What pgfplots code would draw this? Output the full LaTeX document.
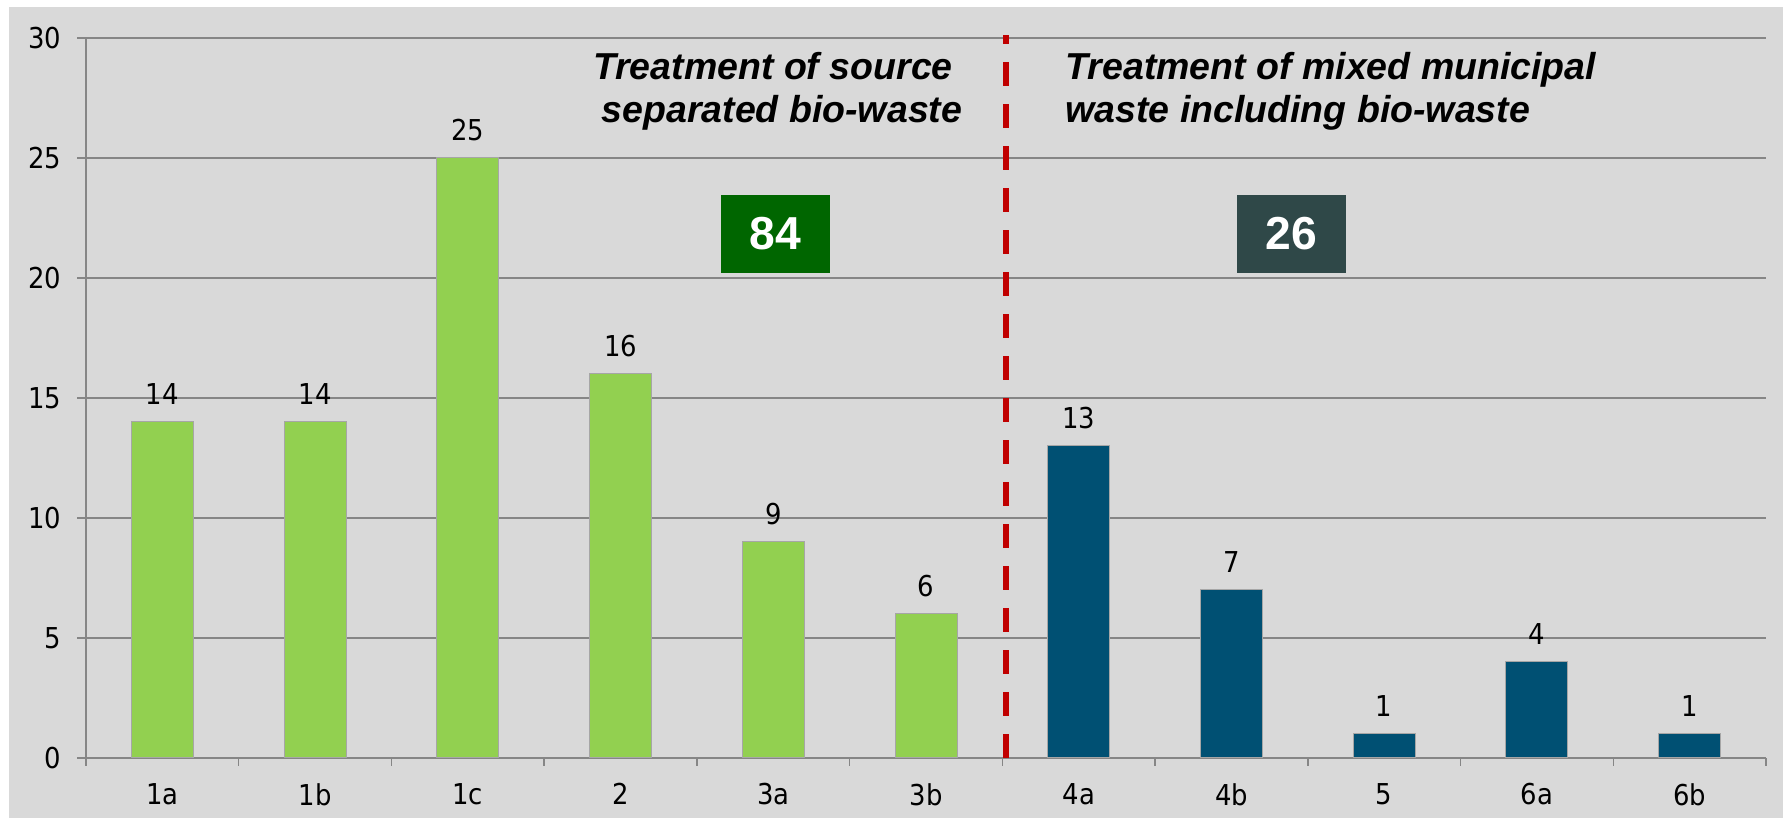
\documentclass[border=0pt]{standalone}
\usepackage{fontspec}
\setmainfont{DejaVu Sans Condensed}
\newfontfamily\arialfont{Liberation Sans}
\usepackage{pgfplots}
\pgfplotsset{compat=1.18}

\definecolor{bggray}{HTML}{D9D9D9}
\definecolor{gridgray}{HTML}{868686}
\definecolor{barGreen}{HTML}{92D050}
\definecolor{barBlue}{HTML}{005073}
\definecolor{boxGreen}{HTML}{006600}
\definecolor{boxSlate}{HTML}{2F4848}
\definecolor{divRed}{HTML}{C00000}

\newcommand{\headfont}{\arialfont\bfseries\itshape\fontsize{15}{17}\selectfont}
\newcommand{\boxfont}{\arialfont\bfseries\fontsize{18.5}{20}\selectfont}
\newcommand{\labelfont}{\fontsize{11.5}{13}\selectfont}

\begin{document}
\begin{tikzpicture}
\useasboundingbox (0,0) rectangle (713.2pt,328pt);
\fill[bggray] (3.6pt,0.8pt) rectangle (713.2pt,325.2pt);
\begin{axis}[
  at={(34.4pt,24.8pt)}, anchor=south west,
  scale only axis, width=672pt, height=288pt,
  xmin=-0.5, xmax=10.5, ymin=0, ymax=30,
  axis x line*=bottom, axis y line*=left,
  axis line style={gridgray, line width=0.6pt},
  ytick={0,5,...,30},
  ymajorgrids, grid style={gridgray, line width=0.6pt},
  xtick={0,...,10},
  xticklabels={1a,1b,1c,2,3a,3b,4a,4b,5,6a,6b},
  minor xtick={-0.5,0.5,...,10.5},
  tick align=outside,
  major tick length=3.6pt, minor tick length=3.2pt,
  tick style={gridgray, line width=0.6pt},
  major x tick style={draw=none},
  tick label style={font=\labelfont, text=black},
  xticklabel style={yshift=-3pt},
  yticklabel style={xshift=-2.8pt},
  /pgf/number format/assume math mode=true,
  ybar, bar width=24.8pt, bar shift=0pt,
  nodes near coords,
  every node near coord/.append style={font=\labelfont,
    text=black, anchor=base, inner sep=0pt, yshift=6.8pt},
  clip=false,
]
% source separated bio-waste
\addplot[fill=barGreen, draw=black!35, line width=0.4pt]
  coordinates {(0,14) (1,14) (2,25) (3,16) (4,9) (5,6)};
% mixed municipal waste
\addplot[fill=barBlue, draw=black!35, line width=0.4pt]
  coordinates {(6,13) (7,7) (8,1) (9,4) (10,1)};

% divider between the two treatment groups
\draw[divRed, line width=2.4pt, dash pattern=on 9.6pt off 7.2pt]
  (axis cs:5.526,0) -- (axis cs:5.526,30.125);

% group headings
\node[anchor=base, font=\headfont, inner sep=0pt] at (axis cs:3.998,28.25) {Treatment of source};
\node[anchor=base, font=\headfont, inner sep=0pt] at (axis cs:4.057,26.46) {separated bio-waste};
\node[anchor=base west, font=\headfont, inner sep=0pt] at (axis cs:5.910,28.25) {Treatment of mixed municipal};
\node[anchor=base west, font=\headfont, inner sep=0pt] at (axis cs:5.910,26.46) {waste including bio-waste};

% group totals
\node[fill=boxGreen, minimum width=43.6pt, minimum height=31.2pt, inner sep=0pt,
  text=white, font=\boxfont] at (axis cs:4.014,21.83) {84};
\node[fill=boxSlate, minimum width=43.6pt, minimum height=31.2pt, inner sep=0pt,
  text=white, font=\boxfont] at (axis cs:7.393,21.83) {26};
\end{axis}
\end{tikzpicture}
\end{document}
